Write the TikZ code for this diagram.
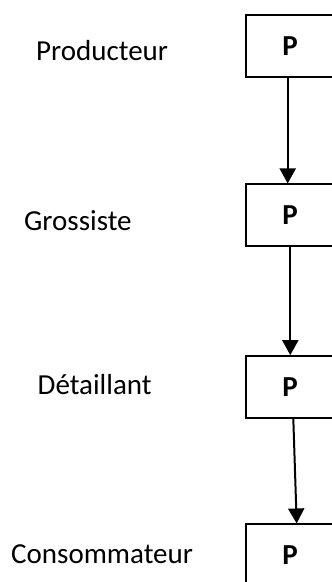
\documentclass[tikz,border=0pt]{standalone}
\usepackage{fontspec}
\setmainfont{Carlito}
\usetikzlibrary{arrows.meta}
\begin{document}
\begin{tikzpicture}[x=1pt,y=-1pt,
  lab/.style={anchor=base west,inner sep=0pt,font=\fontsize{29}{34}\selectfont},
  pbox/.style={draw,line width=1.7pt,minimum width=88.6pt,minimum height=61.7pt,inner sep=0pt,font=\fontsize{29}{34}\selectfont\bfseries},
  arr/.style={line width=2pt,-{Triangle[length=15pt,width=16pt]}}]
\useasboundingbox (0,0) rectangle (332,582);
\node[lab] (l1) at (36,60) {Producteur};
\node[lab] (l2) at (24,230) {Grossiste};
\node[lab] (l3) at (37.5,394.3) {Détaillant};
\node[lab] (l4) at (11,563.3) {Consommateur};
\node[pbox] (b1) at (290,45.85) {P};
\node[pbox] (b2) at (290,215.15) {P};
\node[pbox] (b3) at (290,386.85) {P};
\node[pbox] (b4) at (290,555.15) {P};
\draw[arr] ([xshift=-2.3pt]b1.south) -- ([xshift=-2.3pt]b2.north);
\draw[arr] ([xshift=0.3pt]b2.south) -- ([xshift=0.3pt]b3.north);
\draw[arr] ([xshift=3.3pt]b3.south) -- ([xshift=6.7pt]b4.north);
\end{tikzpicture}
\end{document}
